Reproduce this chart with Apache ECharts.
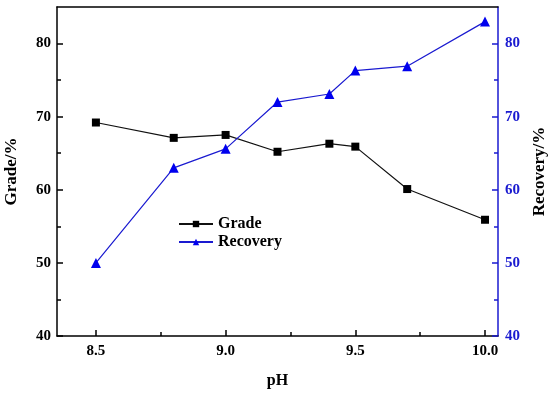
<!DOCTYPE html>
<html>
<head>
<meta charset="utf-8">
<script src="https://cdn.jsdelivr.net/npm/echarts@6/dist/echarts.min.js"></script>
<style>html,body{margin:0;padding:0;background:#fff}#c{width:550px;height:394px}</style>
</head>
<body>
<div id="c"></div>
<script>
var pH = [8.5, 8.8, 9.0, 9.2, 9.4, 9.5, 9.7, 10.0];
var grade = [69.2, 67.1, 67.5, 65.2, 66.3, 65.9, 60.1, 55.9];
var recovery = [50.0, 63.0, 65.6, 72.0, 73.1, 76.3, 76.9, 83.0];
var xMajor = [8.5, 9.0, 9.5, 10.0];
var xMinor = [8.75, 9.25, 9.75];
var yMajor = [40, 50, 60, 70, 80];
var yMinor = [45, 55, 65, 75];

var FONT = '"Liberation Serif", "Times New Roman", serif';
var BLUE = '#1a1ad0';
function pairs(xs, ys) { return xs.map(function (x, i) { return [x, ys[i]]; }); }

var chart = echarts.init(document.getElementById('c'));
var xBase = { type: 'value', min: 8.35, max: 10.05, splitLine: { show: false } };
var yBase = { type: 'value', min: 40, max: 85, splitLine: { show: false } };
chart.setOption({
  animation: false,
  backgroundColor: '#fff',
  grid: { left: 57, right: 52, top: 7, bottom: 58, containLabel: false, outerBoundsMode: 'none' },
  legend: {
    orient: 'vertical', left: 173, top: 211, itemWidth: 34, itemHeight: 8, itemGap: 2,
    textStyle: { fontFamily: FONT, fontWeight: 'bold', fontSize: 16, color: '#000' },
    data: ['Grade', 'Recovery']
  },
  xAxis: [
    Object.assign({}, xBase, {
      position: 'bottom',
      name: 'pH', nameLocation: 'middle', nameGap: 37,
      nameTextStyle: { fontFamily: FONT, fontWeight: 'bold', fontSize: 16, color: '#000' },
      axisLine: { lineStyle: { color: '#000', width: 1.5 } },
      axisTick: { inside: true, length: 6, customValues: xMajor, lineStyle: { color: '#000', width: 1.5 } },
      axisLabel: { customValues: xMajor, margin: 8, formatter: function (v) { return v.toFixed(1); },
        fontFamily: FONT, fontWeight: 'bold', fontSize: 15, color: '#000' }
    }),
    Object.assign({}, xBase, {
      position: 'bottom',
      axisLine: { show: false },
      axisTick: { inside: true, length: 4, customValues: xMinor, lineStyle: { color: '#000', width: 1.5 } },
      axisLabel: { show: false }
    }),
    Object.assign({}, xBase, {
      position: 'top',
      axisLine: { lineStyle: { color: '#000', width: 1.5 } },
      axisTick: { show: false }, axisLabel: { show: false }
    })
  ],
  yAxis: [
    Object.assign({}, yBase, {
      position: 'left',
      name: 'Grade/%', nameLocation: 'middle', nameGap: 37, nameRotate: 90,
      nameTextStyle: { fontFamily: FONT, fontWeight: 'bold', fontSize: 17, color: '#000' },
      axisLine: { lineStyle: { color: '#000', width: 1.5 } },
      axisTick: { inside: true, length: 6, customValues: yMajor, lineStyle: { color: '#000', width: 1.5 } },
      axisLabel: { customValues: yMajor, margin: 6, fontFamily: FONT, fontWeight: 'bold', fontSize: 15, color: '#000' }
    }),
    Object.assign({}, yBase, {
      position: 'left',
      axisLine: { show: false },
      axisTick: { inside: true, length: 4, customValues: yMinor, lineStyle: { color: '#000', width: 1.5 } },
      axisLabel: { show: false }
    }),
    Object.assign({}, yBase, {
      position: 'right',
      name: 'Recovery/%', nameLocation: 'middle', nameGap: 30, nameRotate: 90,
      nameTextStyle: { fontFamily: FONT, fontWeight: 'bold', fontSize: 17, color: '#000' },
      axisLine: { lineStyle: { color: BLUE, width: 1.5 } },
      axisTick: { inside: true, length: 6, customValues: yMajor, lineStyle: { color: BLUE, width: 1.5 } },
      axisLabel: { customValues: yMajor, margin: 7, fontFamily: FONT, fontWeight: 'bold', fontSize: 15, color: BLUE }
    }),
    Object.assign({}, yBase, {
      position: 'right',
      axisLine: { show: false },
      axisTick: { inside: true, length: 4, customValues: yMinor, lineStyle: { color: BLUE, width: 1.5 } },
      axisLabel: { show: false }
    })
  ],
  series: [
    {
      name: 'Grade', type: 'line', xAxisIndex: 0, yAxisIndex: 0,
      data: pairs(pH, grade),
      symbol: 'rect', symbolSize: 8,
      lineStyle: { color: '#111', width: 1.2 },
      itemStyle: { color: '#000' }
    },
    {
      name: 'Recovery', type: 'line', xAxisIndex: 0, yAxisIndex: 2,
      data: pairs(pH, recovery),
      symbol: 'triangle', symbolSize: 10,
      lineStyle: { color: BLUE, width: 1.2 },
      itemStyle: { color: '#0000ee' }
    }
  ]
});
</script>
</body>
</html>
